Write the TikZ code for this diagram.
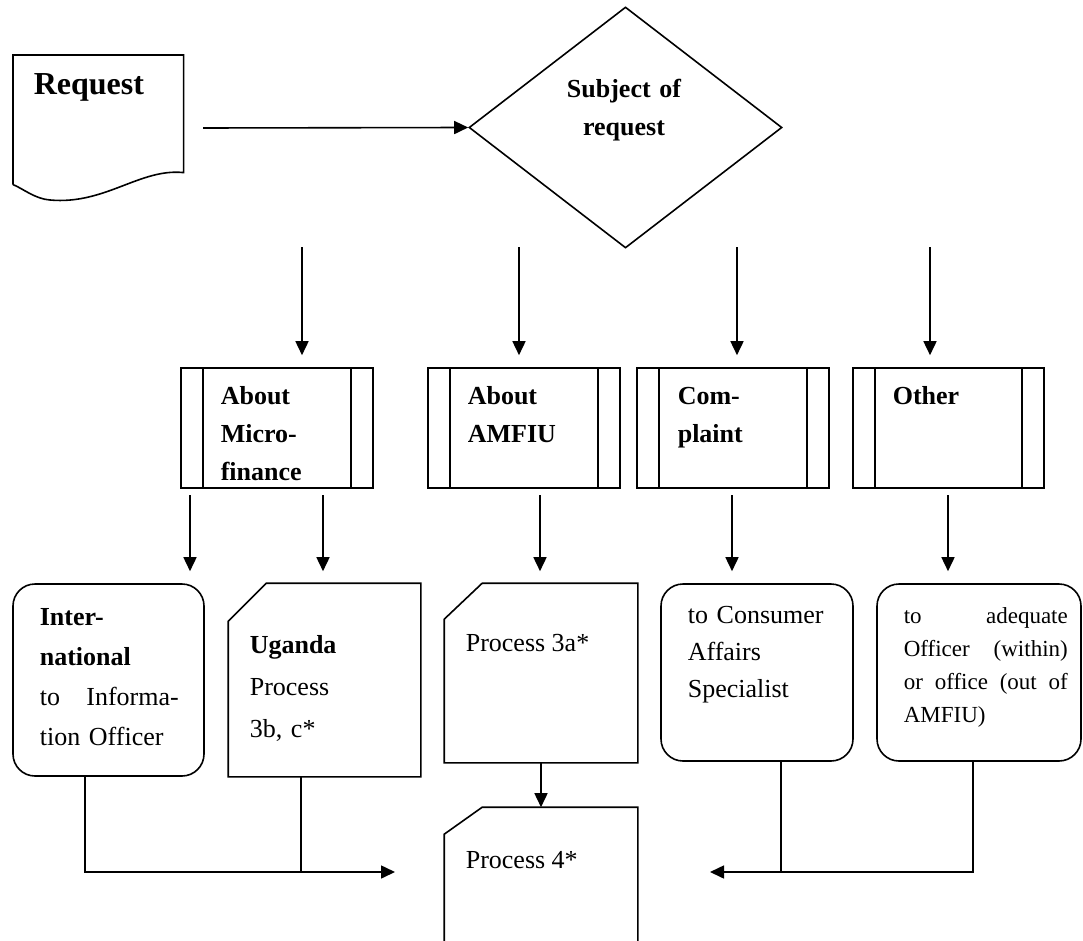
\documentclass[tikz,border=0pt]{standalone}
\usepackage{fontspec}
\setmainfont{Liberation Serif}
\usetikzlibrary{arrows.meta,shapes.geometric}
\begin{document}
\begin{tikzpicture}[x=1pt,y=-1pt,line width=1.6pt,
  arr/.style={-{Triangle[length=14pt,width=13pt]}},
  ppbox/.style={draw,rectangle,minimum height=120pt,inner sep=0pt},
  rbox/.style={draw,rectangle,rounded corners=22pt,inner sep=0pt},
  cardbox/.style={rectangle,inner sep=0pt},
  tx/.style={anchor=base west,inner sep=0pt,align=left,font=\fontsize{26}{40}\selectfont},
  bx/.style={tx,text width=145pt,font=\fontsize{26}{38}\selectfont\bfseries}
]
\useasboundingbox (0,0) rectangle (1083,941);

% Request document
\node[inner sep=0pt,minimum width=169pt,minimum height=116pt,anchor=north west] (req) at (13,55) {};
\draw ([yshift=-12pt]req.south west) -- (req.north west) -- (req.north east) -- (req.south east)
  .. controls (140,168) and (105,205) .. (50,200)
  .. controls (35,199) and (22,188) .. ([yshift=-12pt]req.south west);
\node[anchor=base west,inner sep=0pt,font=\fontsize{32}{38}\selectfont\bfseries] (rt) at (33,95) {Request};

% Decision
\node[draw,diamond,minimum width=313pt,minimum height=241pt,inner sep=0pt] (subj) at (625.5,127.5) {};
\node[anchor=base,inner sep=0pt,text width=200pt,align=center,font=\fontsize{26}{38}\selectfont\bfseries] (st) at (624,98) {Subject of\\request};
\coordinate (reqout) at (203,128);
\draw[arr] (reqout) -- (subj.west);

% Predefined process boxes
\node[ppbox,minimum width=192pt] (b1) at (277,428) {};
\node[ppbox,minimum width=192pt] (b2) at (524,428) {};
\node[ppbox,minimum width=192pt] (b3) at (733,428) {};
\node[ppbox,minimum width=191pt] (b4) at (948.5,428) {};
\foreach \b in {b1,b2,b3,b4}{
  \draw ([xshift=23pt]\b.north west) -- ([xshift=23pt]\b.south west);
  \draw ([xshift=-23pt]\b.north east) -- ([xshift=-23pt]\b.south east);
}
\node[bx] (bt1) at (220,404) {About\\Micro-\\finance};
\node[bx] (bt2) at (467,404) {About\\AMFIU};
\node[bx] (bt3) at (677,404) {Com-\\plaint};
\node[bx] (bt4) at (892,404) {Other};

% arrows from decision to boxes
\coordinate (d1) at (302,247);
\coordinate (d2) at (519,247);
\coordinate (d3) at (737,247);
\coordinate (d4) at (930,247);
\draw[arr,shorten >=12pt] (d1) -- (d1 |- b1.north);
\draw[arr,shorten >=12pt] (d2) -- (d2 |- b2.north);
\draw[arr,shorten >=12pt] (d3) -- (d3 |- b3.north);
\draw[arr,shorten >=12pt] (d4) -- (d4 |- b4.north);

% bottom cards
\node[rbox,minimum width=191pt,minimum height=192pt] (c1) at (108.5,680) {};
\node[cardbox,minimum width=191pt,minimum height=192pt] (c2) at (324.5,680) {};
\node[cardbox,minimum width=192pt,minimum height=178pt] (c3) at (541,673) {};
\node[cardbox,minimum width=192pt,minimum height=152pt] (c4) at (541,884) {};
\node[rbox,minimum width=192pt,minimum height=177pt] (c5) at (757,672.5) {};
\node[rbox,minimum width=204pt,minimum height=177pt] (c6) at (979,672.5) {};
\draw ([yshift=-38pt]c2.north west) -- ([xshift=38pt]c2.north west) -- (c2.north east) -- (c2.south east) -- (c2.south west) -- cycle;
\draw ([yshift=-36pt]c3.north west) -- ([xshift=38pt]c3.north west) -- (c3.north east) -- (c3.south east) -- (c3.south west) -- cycle;
\draw ([yshift=-27pt]c4.north west) -- ([xshift=38pt]c4.north west) -- (c4.north east) -- (c4.south east) -- (c4.south west) -- cycle;

\node[tx,text width=139pt] (t1) at (39,625) {\textbf{Inter-}\\\textbf{national}\\\makebox[139pt]{to\hfill Informa-}\\tion Officer};
\node[tx,text width=160pt,font=\fontsize{26}{42}\selectfont] (t2) at (249,653) {\textbf{Uganda}\\Process\\3b, c*};
\node[tx] (t3) at (465,651) {Process 3a*};
\node[tx] (t4) at (465,868) {Process 4*};
\node[tx,text width=170pt,font=\fontsize{26}{37}\selectfont] (t5) at (687,623) {to Consumer\\Affairs\\Specialist};
\node[tx,text width=164pt,font=\fontsize{23}{33}\selectfont] (t6) at (903,623) {\makebox[164pt]{to\hfill adequate}\\\makebox[164pt]{Officer\hfill (within)}\\\makebox[164pt]{or\hfill office\hfill (out\hfill of}\\AMFIU)};

% arrows from boxes to cards
\coordinate (e1) at (190,495);
\coordinate (e2) at (323,495);
\coordinate (e3) at (540,495);
\coordinate (e4) at (732,495);
\coordinate (e5) at (948,495);
\draw[arr,shorten >=12pt] (e1) -- (e1 |- c1.north);
\draw[arr,shorten >=12pt] (e2) -- (e2 |- c2.north);
\draw[arr,shorten >=12pt] (e3) -- (e3 |- c3.north);
\draw[arr,shorten >=12pt] (e4) -- (e4 |- c5.north);
\draw[arr,shorten >=12pt] (e5) -- (e5 |- c6.north);

% converging connectors
\coordinate (inL) at (395,872);
\coordinate (inR) at (710,872);
\draw[arr] ([xshift=-23.5pt]c1.south) |- (inL);
\draw ([xshift=-23.5pt]c2.south) -- ([xshift=-23.5pt]c2.south |- inL);
\draw[arr] ([xshift=-6pt]c6.south) |- (inR);
\draw ([xshift=24pt]c5.south) -- ([xshift=24pt]c5.south |- inR);
\draw[arr] (c3.south) -- (c4.north);
\end{tikzpicture}
\end{document}
